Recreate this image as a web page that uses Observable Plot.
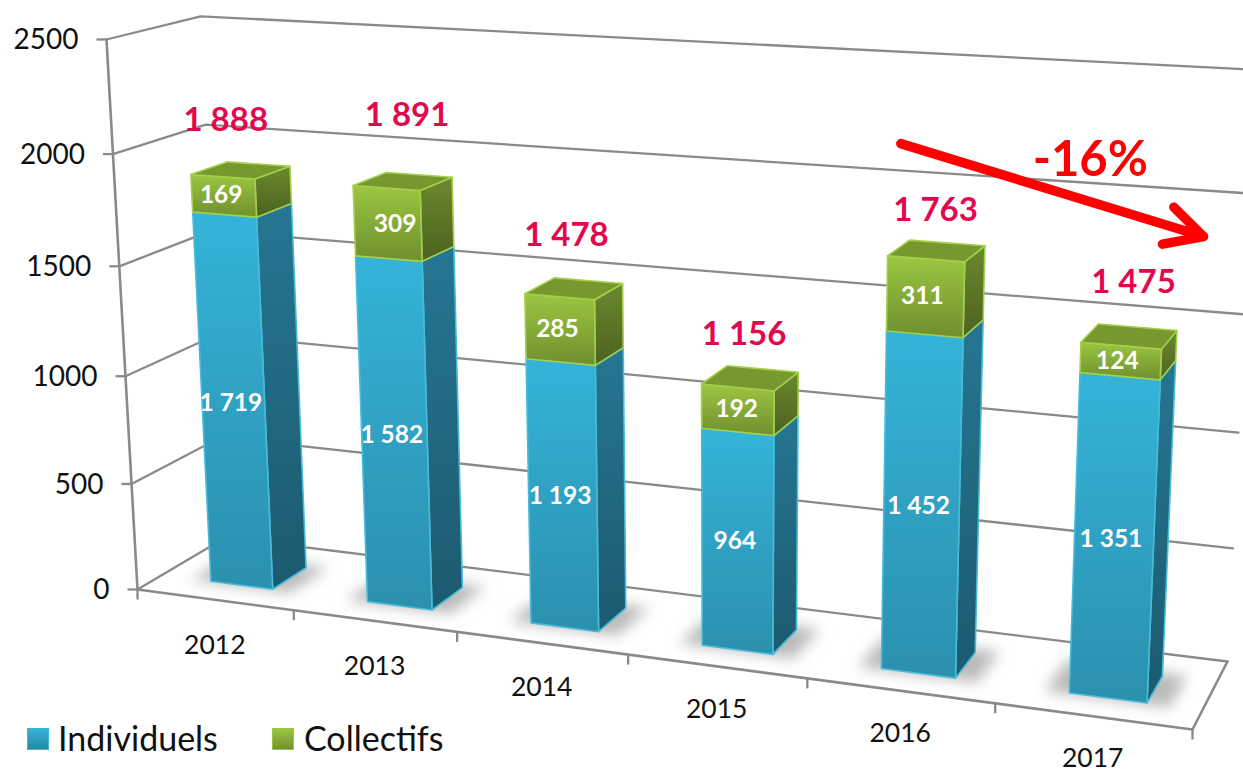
<!DOCTYPE html>
<html lang="fr">
<head>
<meta charset="utf-8">
<script src="https://cdn.jsdelivr.net/npm/d3@7"></script>
<script src="https://cdn.jsdelivr.net/npm/@observablehq/plot@0.6"></script>
<style>
  html, body { margin: 0; padding: 0; background: #fff; overflow: hidden; }
  #root { position: relative; width: 1243px; height: 772px; }
  #root svg { display: block; position: absolute; left: 0; top: 0; }
  .legend { position: absolute; top: 714px; left: 0; height: 48px; width: 100%; font: 34px Lato, sans-serif; color: #111; }
  .legend i { position: absolute; top: 14px; width: 22px; height: 22px; border: 1px solid; box-sizing: border-box; }
  .legend span { position: absolute; top: 2px; line-height: 44px; }
  .blur { filter: blur(7px); }
</style>
</head>
<body>
<div id="root"></div>
<script>
// ---- chart values ----
const years = ["2012", "2013", "2014", "2015", "2016", "2017"];
const individuels = [1719, 1582, 1193, 964, 1452, 1351];
const collectifs = [169, 309, 285, 192, 311, 124];
const totals = [1888, 1891, 1478, 1156, 1763, 1475];
const valueTicks = [0, 500, 1000, 1500, 2000, 2500];
const seriesNames = ["Individuels", "Collectifs"];
const trendLabel = "-16%";

// ---- layout of the 3D scene, in chart units (category, value, depth) ----
const valueMax = 2500;
const barU = [0.32, 0.72];
const barDepth = [0.27, 0.67];
const shadowU = [0.2, 0.84];
const shadowDepth = [0.25, 0.72];
const totalLift = [250, 320, 265, 230, 200, 258];
const totalShift = [0.05, 0.15, 0.06, 0.05, 0.06, 0.065];
const collectifShift = [0, 0.06, 0, 0.01, 0, 0];
const trendArrow = {from: [4.17, 2114], to: [5.776, 1810]};
const trendText = [5.18, 2093];

// Perspective camera: category u (0..6), value, depth t (0 = front, 1 = back wall)
function project(u, value, t) {
  const s = u / 6, r = value / valueMax;
  const w = 1 - 0.13053 * s + 0.05745 * t - 0.05 * r;
  return {
    x: (899.4 * s + 100.9 * t - 36.3 * r + 137) / w,
    y: (44.84 * s - 21.15 * t - 551.95 * r + 589) / w
  };
}

const fmt = (d) => (d >= 1000 ? String(d).replace(/(\d)(\d{3})$/, "$1\u00a0$2") : String(d));
const poly = (id, corners) => [...corners, corners[0]].map(([u, v, t]) => ({id, ...project(u, v, t)}));

const frontFace = (id, i, v0, v1) => poly(id, [
  [i + barU[0], v0, barDepth[0]], [i + barU[1], v0, barDepth[0]],
  [i + barU[1], v1, barDepth[0]], [i + barU[0], v1, barDepth[0]]]);
const sideFace = (id, i, v0, v1) => poly(id, [
  [i + barU[1], v0, barDepth[0]], [i + barU[1], v0, barDepth[1]],
  [i + barU[1], v1, barDepth[1]], [i + barU[1], v1, barDepth[0]]]);
const topFace = (id, i, v) => poly(id, [
  [i + barU[0], v, barDepth[0]], [i + barU[1], v, barDepth[0]],
  [i + barU[1], v, barDepth[1]], [i + barU[0], v, barDepth[1]]]);

const idx = years.map((_, i) => i);
const shadows = idx.flatMap((i) => poly("s" + i, [
  [i + shadowU[0], 0, shadowDepth[0]], [i + shadowU[1], 0, shadowDepth[0]],
  [i + shadowU[1], 0, shadowDepth[1]], [i + shadowU[0], 0, shadowDepth[1]]]));
const blueFront = idx.flatMap((i) => frontFace("b" + i, i, 0, individuels[i]));
const blueSide = idx.flatMap((i) => sideFace("b" + i, i, 0, individuels[i]));
const greenFront = idx.flatMap((i) => frontFace("g" + i, i, individuels[i], individuels[i] + collectifs[i]));
const greenSide = idx.flatMap((i) => sideFace("g" + i, i, individuels[i], individuels[i] + collectifs[i]));
const greenTop = idx.flatMap((i) => topFace("g" + i, i, individuels[i] + collectifs[i]));

const grid = valueTicks.flatMap((v) => [[0, v, 0], [0, v, 1], [6, v, 1]].map(([u, val, t]) => ({id: v, ...project(u, val, t)})));
const frame = [
  ...[[0, 0, 0], [6, 0, 0], [6, 0, 1]].map(([u, v, t]) => ({id: "floor", ...project(u, v, t)})),
  ...[[0, 0, 0], [0, valueMax, 0]].map(([u, v, t]) => ({id: "axis", ...project(u, v, t)}))
];
const yTicks = valueTicks.map((v) => ({v, ...project(0, v, 0)}));
const xTicks = d3.range(0, 7).map((u) => project(u, 0, 0));
const xLabels = years.map((label, i) => ({label, i, ...project(i + 0.5, 0, 0)}));
const segLabels = idx.flatMap((i) => [
  {label: fmt(individuels[i]), ...project(i + 0.505, individuels[i] / 2, barDepth[0])},
  {label: fmt(collectifs[i]), ...project(i + 0.505 + collectifShift[i], individuels[i] + collectifs[i] / 2, barDepth[0])}
]);
const totalLabels = idx.map((i) => ({label: fmt(totals[i]), ...project(i + 0.505 + totalShift[i], totals[i] + totalLift[i], barDepth[0])}));
const arrowA = project(trendArrow.from[0], trendArrow.from[1], 1);
const arrowB = project(trendArrow.to[0], trendArrow.to[1], 1);
const trendPos = project(trendText[0], trendText[1], 1);

const faceMark = (rows, fill, stroke) => Plot.line(rows, {x: "x", y: "y", z: "id", fill, stroke, strokeWidth: 1.6, curve: "linear", strokeLinejoin: "round"});
const gridColor = "#8a8a8a";
const font = "Lato, sans-serif";

const chart = Plot.plot({
  width: 1243, height: 772,
  margin: 0,
  style: {background: "transparent", fontFamily: font},
  x: {domain: [0, 1243], range: [0, 1243], axis: null},
  y: {domain: [0, 772], range: [0, 772], axis: null},
  marks: [
    Plot.line(shadows, {x: "x", y: "y", z: "id", fill: "#8c8c8c", stroke: "none", curve: "linear", className: "blur", fillOpacity: 0.6}),
    Plot.line(grid, {x: "x", y: "y", z: "id", stroke: gridColor, strokeWidth: 2.3, curve: "linear"}),
    Plot.line(frame, {x: "x", y: "y", z: "id", stroke: gridColor, strokeWidth: 2.6, curve: "linear"}),
    Plot.link(yTicks, {x1: "x", y1: "y", x2: (d) => d.x - 10, y2: "y", stroke: gridColor, strokeWidth: 2.3}),
    Plot.link(xTicks, {x1: "x", y1: "y", x2: "x", y2: (d) => d.y + 10, stroke: gridColor, strokeWidth: 2.3}),
    faceMark(blueSide, "url(#blueSide)", "#46bcd9"),
    faceMark(blueFront, "url(#blueFront)", "#46bcd9"),
    faceMark(greenSide, "url(#greenSide)", "#a4cf4b"),
    faceMark(greenFront, "url(#greenFront)", "#a4cf4b"),
    faceMark(greenTop, "#76982f", "#a4cf4b"),
    Plot.text(yTicks, {x: (d) => d.x - 28, y: (d) => d.y + 1, text: (d) => String(d.v), textAnchor: "end", fontSize: 28, fill: "#111", lineAnchor: "middle"}),
    Plot.text(xLabels, {x: "x", y: (d) => d.y + 46 - d.i * 0.8, text: "label", fontSize: 26.5, fill: "#111", lineAnchor: "middle"}),
    Plot.text(segLabels, {x: "x", y: "y", text: "label", fontSize: 24.5, fontWeight: 700, fill: "#fff", lineAnchor: "middle"}),
    Plot.text(totalLabels, {x: "x", y: "y", text: "label", fontSize: 33, fontWeight: 700, fill: "#e3084c", lineAnchor: "middle"}),
    Plot.arrow([0], {x1: () => arrowA.x, y1: () => arrowA.y, x2: () => arrowB.x, y2: () => arrowB.y, stroke: "#ff0000", strokeWidth: 9.5, headAngle: 55, headLength: 6.6, bend: 0}),
    Plot.text([trendLabel], {x: () => trendPos.x, y: () => trendPos.y, text: (d) => d, fontSize: 49, fontWeight: 700, fill: "#ff0000", lineAnchor: "middle"})
  ]
});

const gradient = (id, a, b) => `<linearGradient id="${id}" x1="0" y1="0" x2="0" y2="1"><stop offset="0" stop-color="${a}"/><stop offset="1" stop-color="${b}"/></linearGradient>`;
d3.select(chart).insert("defs", ":first-child").html(
  gradient("blueFront", "#34b3d9", "#2b90ae") +
  gradient("blueSide", "#257692", "#1c5a70") +
  gradient("greenFront", "#9cc641", "#6f8f2e") +
  gradient("greenSide", "#6c892d", "#4b6220")
);

const root = document.getElementById("root");
root.appendChild(chart);

const legend = document.createElement("div");
legend.className = "legend";
const swatches = [["linear-gradient(#35b3d8,#2a86a4)", "#3fb5d4", 27, 58], ["linear-gradient(#9cc641,#71902f)", "#9cc641", 272, 304]];
swatches.forEach(([bg, bd, sx, tx], i) => {
  const sw = document.createElement("i");
  sw.style.background = bg; sw.style.borderColor = bd; sw.style.left = sx + "px";
  const tl = document.createElement("span");
  tl.textContent = seriesNames[i]; tl.style.left = tx + "px";
  legend.append(sw, tl);
});
root.appendChild(legend);
</script>
</body>
</html>
